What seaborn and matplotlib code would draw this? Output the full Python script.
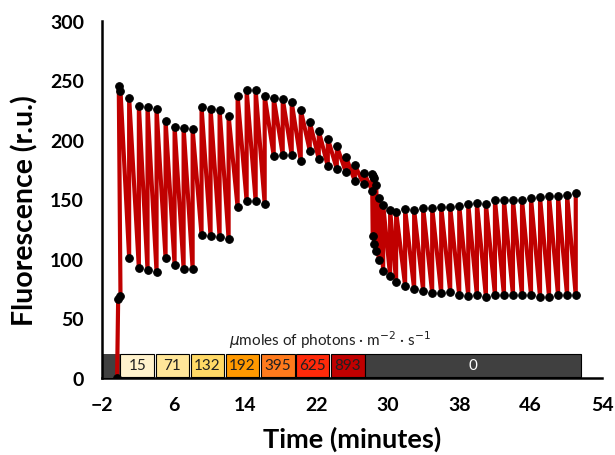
import matplotlib
matplotlib.use("Agg")
import matplotlib.pyplot as plt
from matplotlib.patches import Rectangle
import pandas as pd
import seaborn as sns

# dark-adapted readings before the light steps (Fo, Fm)
start_time = [-0.32, -0.2, 0.06, -0.13, 0.06]
start_fluo = [0, 66.4, 69.2, 245.1, 241.4]

# one saturating pulse per minute: fs = level before the pulse, fm = peak
pulse_time = [1.03, 2.12, 3.09, 4.10, 5.11, 6.12, 7.13, 8.14, 9.14, 10.15,
              11.16, 12.17, 13.18, 14.19, 15.20, 16.21, 17.22, 18.23, 19.24, 20.25,
              21.26, 22.27, 23.28, 24.29, 25.30, 26.31, 27.32, 28.26, 28.33, 28.50,
              28.68, 29.00, 29.48, 30.26, 30.93, 31.94, 32.95, 33.96, 34.97, 35.98,
              36.99, 38.00, 39.01, 39.98, 40.99, 42.00, 43.01, 44.02, 45.03, 46.04,
              47.05, 48.06, 49.07, 50.08, 51.05]
fs = [101.1, 92.2, 90.5, 89.1, 100.6, 95.2, 91.9, 91.9, 120.2, 119.0,
      118.5, 116.8, 143.4, 148.7, 148.7, 146.5, 186.8, 187.7, 187.4, 182.5,
      191.0, 184.0, 177.9, 175.6, 173.1, 165.5, 162.8, 157.4, 119.6, 112.6,
      107.0, 99.4, 90.2, 86.0, 80.9, 77.6, 74.5, 73.4, 71.5, 71.4,
      72.0, 69.7, 68.9, 69.5, 68.3, 69.8, 69.3, 69.3, 69.3, 69.7,
      68.3, 68.1, 69.3, 69.3, 69.3]
fm = [235.6, 228.8, 227.4, 225.8, 216.2, 211.2, 210.4, 209.0, 227.4, 226.3,
      225.2, 220.4, 236.7, 241.7, 241.7, 236.7, 235.3, 234.7, 231.5, 225.3,
      215.2, 207.6, 201.1, 194.7, 186.0, 178.7, 172.5, 171.7, 170.0, 168.0,
      162.2, 151.3, 145.7, 141.4, 139.8, 141.7, 141.0, 143.1, 143.1, 143.7,
      143.5, 144.8, 146.0, 146.8, 146.3, 149.8, 149.7, 149.7, 149.9, 151.1,
      151.8, 152.6, 152.5, 153.9, 155.2]

# actinic light steps (umol photons m-2 s-1)
light_labels = ["15", "71", "132", "192", "395", "625", "893", "0"]
light_start = [0.06, 4.02, 7.91, 11.84, 15.76, 19.72, 23.61, 27.50]
light_end = [3.80, 7.72, 11.65, 15.57, 19.57, 23.42, 27.46, 51.65]
light_colors = ["#FFF2CC", "#FFE699", "#FFD966", "#FF9900",
                "#FF7A1C", "#FF2A0A", "#C00000", "#404040"]
text_colors = ["#202020"] * 7 + ["white"]

times = list(start_time)
fluo = list(start_fluo)
for t, lo, hi in zip(pulse_time, fs, fm):
    times += [t, t]
    fluo += [lo, hi]
df = pd.DataFrame({"time": times, "fluo": fluo})

sns.set_style("white")
plt.rcParams["font.family"] = ["Lato", "DejaVu Sans"]
plt.rcParams["text.color"] = "black"
plt.rcParams["axes.labelcolor"] = "black"

fig, ax = plt.subplots(figsize=(6.15, 4.56), dpi=100)
fig.subplots_adjust(left=0.166, right=0.979, bottom=0.169, top=0.952)

# light bar along the bottom
bar_lo, bar_h = 1, 19.5
ax.add_patch(Rectangle((-2, bar_lo), light_start[0] + 2, bar_h,
                       facecolor="#404040", edgecolor="none", zorder=1))
for lab, s, e, c, tc in zip(light_labels, light_start, light_end, light_colors, text_colors):
    ax.add_patch(Rectangle((s, bar_lo), e - s, bar_h, facecolor=c,
                           edgecolor="black", lw=0.8, zorder=1))
    ax.text((s + e) / 2, bar_lo + bar_h / 2, lab, ha="center", va="center",
            fontsize=11, color=tc, zorder=2)
ax.text(23.5, 33, r"$\mu$moles of photons · m$^{-2}$ · s$^{-1}$",
        ha="center", va="center", fontsize=11, color="#202020")

sns.lineplot(data=df, x="time", y="fluo", sort=False, estimator=None,
             color="#C00000", lw=3, marker="o", markersize=5.5,
             markerfacecolor="black", markeredgecolor="black", ax=ax, zorder=3)

ax.set_xlim(-2, 54)
ax.set_ylim(0, 300)
ax.set_xticks(range(-2, 55, 8))
ax.set_yticks(range(0, 301, 50))
sns.despine(ax=ax)
for side in ["left", "bottom"]:
    ax.spines[side].set_linewidth(1.8)
    ax.spines[side].set_color("black")
ax.tick_params(axis="both", direction="out", length=5, width=1.8,
               colors="black", labelsize=14)
ax.tick_params(axis="y", pad=8)
ax.tick_params(axis="x", pad=8)
for lbl in ax.get_xticklabels() + ax.get_yticklabels():
    lbl.set_fontweight("bold")

ax.set_xlabel("Time (minutes)", fontsize=19.5, fontweight="bold")
ax.xaxis.set_label_coords(0.5, -0.135)
ax.set_ylabel("Fluorescence (r.u.)", fontsize=20.5, fontweight="bold")
ax.yaxis.set_label_coords(-0.128, 0.47)

fig.savefig("out.png", dpi=100)
